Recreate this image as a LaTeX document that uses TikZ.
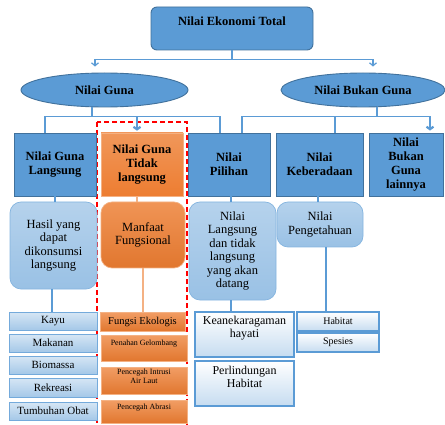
\documentclass[tikz,border=0pt]{standalone}
\usepackage{fontspec}
\setmainfont{Liberation Serif}
\usetikzlibrary{shapes.geometric,arrows.meta,shadows}
\definecolor{bleu}{HTML}{5B9BD5}
\definecolor{bleufonce}{HTML}{41719C}
\definecolor{orangevif}{HTML}{ED7D31}
\definecolor{orangepale}{HTML}{F4B183}
\tikzset{
  gras/.style={font=\fontsize{12.5}{14}\selectfont\bfseries, align=center, inner sep=0pt},
  sommet/.style={gras, rectangle, rounded corners=6pt, draw=bleufonce, fill=bleu, line width=0.9pt,
    minimum width=162pt, text height=19pt, text depth=24pt},
  ovale/.style={gras, ellipse, draw=bleufonce, fill=bleu, line width=0.9pt, minimum height=34pt},
  entete/.style={gras, rectangle, draw=bleufonce, fill=bleu, line width=0.9pt, minimum height=63pt},
  entetorange/.style={gras, rectangle, draw=orangepale, top color=orangevif!80, bottom color=orangevif,
    line width=0.6pt, minimum height=63pt},
  bulle/.style={rectangle, rounded corners=11pt, draw=bleu!75, top color=bleu!45, bottom color=bleu!62,
    line width=0.7pt, align=center, inner sep=0pt, font=\fontsize{12.5}{13.5}\selectfont},
  bulleorange/.style={bulle, draw=orangepale, top color=orangevif!82, bottom color=orangevif!95!black},
  liste/.style={rectangle, draw=bleu!85, top color=bleu!25, bottom color=bleu!55, line width=0.7pt,
    minimum width=88pt, minimum height=18pt, inner sep=0pt, font=\fontsize{11}{12}\selectfont},
  listeorange/.style={rectangle, draw=orangepale, top color=orangevif!75, bottom color=orangevif!95!black,
    line width=0.5pt, minimum width=86pt, inner sep=0pt, align=center, font=\fontsize{8}{9.5}\selectfont},
  cadreombre/.style={rectangle, draw=bleu, top color=white, bottom color=bleu!35, line width=1.1pt,
    drop shadow={shadow xshift=1pt, shadow yshift=-1pt, opacity=0.25},
    align=center, inner sep=0pt, font=\fontsize{12}{13}\selectfont},
  lien/.style={draw=bleu, line width=1.2pt},
  lienorange/.style={draw=orangepale, line width=1.2pt},
  fleche/.style={lien, -{Straight Barb[length=3pt,width=7pt]}},
  grossefleche/.style={draw=bleu, line width=2.2pt, -{Straight Barb[length=2.5pt,width=7pt]}},
  pointille/.style={draw=red, line width=1.2pt, dash pattern=on 5pt off 3pt}
}
\begin{document}
\begin{tikzpicture}[x=1pt,y=-1pt]
  \useasboundingbox (0,0) rectangle (445,425);
  %Cadre rouge
  \draw[pointille] (97,122) rectangle (187,430);

  %Niveau 1
  \node[sommet] (total) at (232,28.5) {Nilai Ekonomi Total};
  \node[ovale, minimum width=167pt] (guna) at (104.5,90) {Nilai Guna};
  \node[ovale, minimum width=164pt] (bukan) at (363,90) {Nilai Bukan Guna};

  %Niveau 2
  \node[entete, minimum width=82pt] (gl) at (55,164.5) {Nilai Guna\\Langsung};
  \node[entetorange, minimum width=82pt] (gtl) at (142,164.5) {Nilai Guna\\Tidak\\langsung};
  \node[entete, minimum width=82pt] (pil) at (229,164.5) {Nilai\\Pilihan};
  \node[entete, minimum width=87pt] (keb) at (319.5,164.5) {Nilai\\Keberadaan};
  \node[entete, minimum width=74pt] (lain) at (406,164.5) {Nilai\\Bukan\\Guna\\lainnya};

  %Niveau 3
  \node[bulle, minimum width=87pt, minimum height=87pt] (hasil) at (53.5,245.5) {Hasil yang\\dapat\\dikonsumsi\\langsung};
  \node[bulleorange, minimum width=84pt, minimum height=66pt] (manfaat) at (143,235) {Manfaat\\Fungsional};
  \node[bulle, minimum width=87pt, minimum height=98pt] (nls) at (232.5,251) {Nilai\\Langsung\\dan tidak\\langsung\\yang akan\\datang};
  \node[bulle, minimum width=86pt, minimum height=45pt] (penget) at (320,224.5) {Nilai\\Pengetahuan};

  %Niveau 4
  \node[liste] (kayu) at (53,321) {Kayu};
  \node[liste] (makanan) at (53,343) {Makanan};
  \node[liste] (biomassa) at (53,365) {Biomassa};
  \node[liste, minimum height=19pt] (rekreasi) at (53,387.5) {Rekreasi};
  \node[liste] (obat) at (53,411) {Tumbuhan Obat};
  \node[listeorange, minimum width=85pt, minimum height=19pt, font=\fontsize{10.5}{12}\selectfont] (fungsi) at (142.5,321.5) {Fungsi Ekologis};
  \node[listeorange, minimum height=26pt, text depth=10pt] (penahan) at (144,348) {Penahan Gelombang};
  \node[listeorange, minimum height=27pt, text depth=9pt] (intrusi) at (144,380.5) {Pencegah Intrusi\\Air Laut};
  \node[listeorange, minimum height=23pt, text depth=9pt] (abrasi) at (144,411.5) {Pencegah Abrasi};
  \node[cadreombre, minimum width=99pt, minimum height=45pt, text depth=14.5pt] (kean) at (244.5,334.5) {Keanekaragaman\\hayati};
  \node[cadreombre, minimum width=99pt, minimum height=45pt, text depth=12.5pt] (perl) at (244.5,383.5) {Perlindungan\\Habitat};
  \node[cadreombre, minimum width=82pt, minimum height=19pt, font=\fontsize{10}{11}\selectfont] (habitat) at (338,321.5) {Habitat};
  \node[cadreombre, minimum width=82pt, minimum height=19pt, font=\fontsize{10}{11}\selectfont] (spesies) at (338,342.5) {Spesies};

  %Liaisons du sommet
  \draw[lien] (total.south) -- ++(0,9) coordinate (t1);
  \draw[fleche] (t1) -| ([xshift=-9.5pt,yshift=6pt]guna.north);
  \draw[fleche] (t1) -| ([xshift=10pt,yshift=6pt]bukan.north);

  %Liaisons Nilai Guna
  \draw[lien] ([xshift=-12.5pt]guna.south) -- ++(0,9) coordinate (g1);
  \draw[lien] ([xshift=-10pt]gl.north) |- ([xshift=-9pt]pil.north |- g1) -- ([xshift=-9pt]pil.north);
  \draw[grossefleche] ([xshift=-5pt]gtl.north |- g1) -- ([xshift=-5pt,yshift=2pt]gtl.north);

  %Liaisons Nilai Bukan Guna
  \draw[lien] ([xshift=14pt]bukan.south) -- ++(0,9) coordinate (b1);
  \draw[lien] ([xshift=13pt]pil.north) |- ([xshift=24pt]lain.north |- b1);
  \draw[lien] ([xshift=15.5pt]keb.north) -- ([xshift=15.5pt]keb.north |- b1);
  \draw[grossefleche] ([xshift=24pt]lain.north |- b1) -- ([xshift=24pt,yshift=2pt]lain.north);

  %Liaisons vers les niveaux 3 et 4
  \draw[lien] (gl.south) -- (gl.south |- hasil.north);
  \draw[lienorange] ([xshift=-5pt]gtl.south) -- ([xshift=-5pt]gtl.south |- manfaat.north);
  \draw[lien] ([xshift=2pt]pil.south) -- ([xshift=2pt]pil.south |- nls.north);
  \draw[lien] ([xshift=-1.5pt]keb.south) -- ([xshift=-1.5pt]keb.south |- penget.north);
  \draw[lien] ([xshift=-1.5pt]hasil.south) -- ([xshift=-1.5pt]hasil.south |- kayu.north);
  \draw[lienorange] (manfaat.south) -- (manfaat.south |- fungsi.north);
  \draw[lien] ([xshift=-1.5pt]nls.south) -- ([xshift=-1.5pt]nls.south |- kean.north);
  \draw[lien] ([xshift=6pt]penget.south) -- ([xshift=6pt]penget.south |- habitat.north);
\end{tikzpicture}
\end{document}
